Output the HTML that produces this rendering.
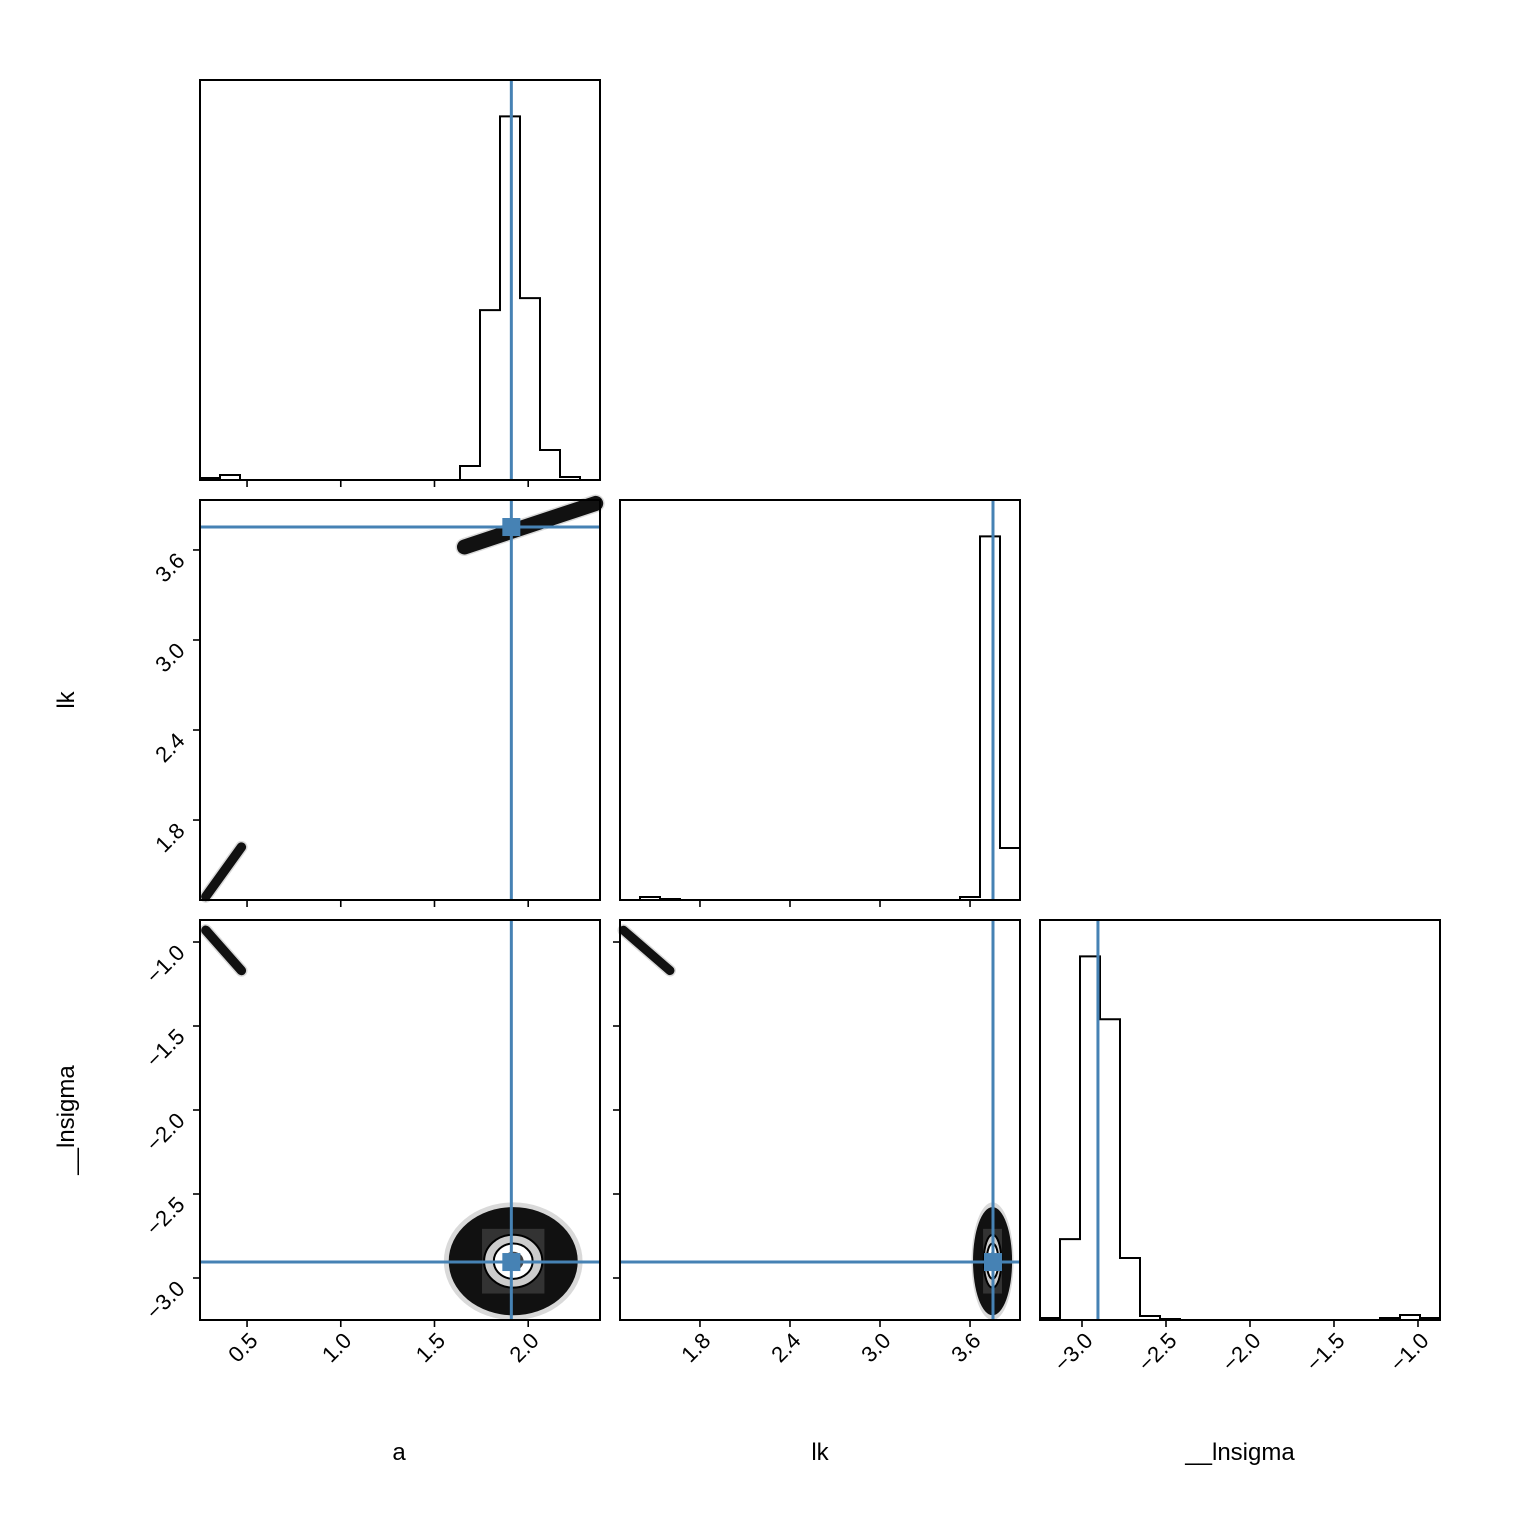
<!DOCTYPE html>
<html><head><meta charset="utf-8"><style>
html,body{margin:0;padding:0;background:#fff}
svg{display:block;font-family:"Liberation Sans",sans-serif}
</style></head><body>
<svg id="c" width="1520" height="1520" viewBox="0 0 1520 1520"></svg>
<script>
// ---- data ----
const paramNames = ["a", "lk", "__lnsigma"];
const ranges = [[0.249, 2.383], [1.267, 3.933], [-3.25, -0.869]];
const truths = [1.91, 3.753, -2.905];
const ticksA = [0.5, 1.0, 1.5, 2.0];
const ticksLk = [1.8, 2.4, 3.0, 3.6];
const ticksLs = [-3.0, -2.5, -2.0, -1.5, -1.0];
const tickLabelsA = ["0.5", "1.0", "1.5", "2.0"];
const tickLabelsLk = ["1.8", "2.4", "3.0", "3.6"];
const tickLabelsLs = ["\u22123.0", "\u22122.5", "\u22122.0", "\u22121.5", "\u22121.0"];
const histA = [2, 5, 0,0,0,0,0,0,0,0,0,0,0, 14, 170, 364, 182, 30, 3, 0];
const histLk = [0, 3, 1, 0,0,0,0,0,0,0,0,0,0,0,0,0,0, 3, 364, 52];
const histLs = [2, 81, 364, 301, 62, 4, 1, 0,0,0,0,0,0,0,0,0,0, 2, 5, 2];
// bands: [x0,y0,x1,y1,width] in data units (x-axis units)
const bandsALk = [[1.66, 3.62, 2.36, 3.91, 0.08], [0.28, 1.29, 0.47, 1.62, 0.05]];
const bandsALs = [[0.28, -0.93, 0.47, -1.17, 0.05]];
const bandsLkLs = [[1.29, -0.93, 1.6, -1.17, 0.06]];
// blobs: [cx, cy, halfX, halfY] in data units
const blobALs = [1.92, -2.9, 0.37, 0.35];
const blobLkLs = [3.75, -2.9, 0.14, 0.35];

const NS = "http://www.w3.org/2000/svg";
const svg = document.getElementById("c");
function el(tag, attrs, parent) {
  const e = document.createElementNS(NS, tag);
  for (const k in attrs) e.setAttribute(k, attrs[k]);
  (parent || svg).appendChild(e);
  return e;
}
const colX = [200, 620, 1040], rowY = [80, 500, 920], S = 400;
function sx(col, p, v) { const r = ranges[p]; return colX[col] + (v - r[0]) / (r[1] - r[0]) * S; }
function sy(row, p, v) { const r = ranges[p]; return rowY[row] + S - (v - r[0]) / (r[1] - r[0]) * S; }
const tickSets = [ticksA, ticksLk, ticksLs];
const tickLbls = [tickLabelsA, tickLabelsLk, tickLabelsLs];
const BLUE = "#4682b4";

function hist(col, p, vals, name) {
  const g = el("g", {});
  
  
  const mx = Math.max(...vals) * 1.1;
  const w = S / vals.length;
  let d = "";
  const base = rowY[col] + S;
  vals.forEach((v, i) => {
    const x0 = colX[col] + i * w, y = base - v / mx * S;
    d += (i === 0 ? "M" + x0 + "," + y : "L" + x0 + "," + y) + "L" + (x0 + w) + "," + y;
  });
  el("path", {d: d, fill: "none", stroke: "#000", "stroke-width": 2}, g);
  const tx = sx(col, p, truths[p]);
  el("line", {x1: tx, x2: tx, y1: rowY[col], y2: base, stroke: BLUE, "stroke-width": 3}, g);
}
function band(g, col, row, px, py, b) {
  const x0 = sx(col, px, b[0]), y0 = sy(row, py, b[1]), x1 = sx(col, px, b[2]), y1 = sy(row, py, b[3]);
  const hw = b[4] / (ranges[px][1] - ranges[px][0]) * S;
  el("line", {x1: x0, y1: y0, x2: x1, y2: y1, stroke: "#888", "stroke-width": hw + 3, "stroke-linecap": "round", opacity: 0.3}, g);
  el("line", {x1: x0, y1: y0, x2: x1, y2: y1, stroke: "#111", "stroke-width": hw, "stroke-linecap": "round"}, g);
}
function blob(g, col, row, px, py, b) {
  const cx = sx(col, px, b[0]), cy = sy(row, py, b[1]);
  const rx = b[2] / (ranges[px][1] - ranges[px][0]) * S, ry = b[3] / (ranges[py][1] - ranges[py][0]) * S;
  el("ellipse", {cx: cx, cy: cy, rx: rx, ry: ry, fill: "#000", opacity: 0.15}, g);
  el("ellipse", {cx: cx, cy: cy, rx: rx * 0.93, ry: ry * 0.92, fill: "#111"}, g);
  el("rect", {x: cx - rx * 0.45, y: cy - ry * 0.55, width: rx * 0.9, height: ry * 1.1, fill: "#333"}, g);
  el("ellipse", {cx: cx, cy: cy, rx: rx * 0.42, ry: ry * 0.45, fill: "#ccc", stroke: "#000", "stroke-width": 2}, g);
  el("ellipse", {cx: cx, cy: cy, rx: rx * 0.28, ry: ry * 0.3, fill: "#fff", stroke: "#000", "stroke-width": 2}, g);
  el("ellipse", {cx: cx, cy: cy, rx: rx * 0.15, ry: ry * 0.16, fill: "#444"}, g);
}
function scatterPanel(col, row, px, py, bands, bl, name) {
  const g = el("g", {});
  
  
  bands.forEach(b => band(g, col, row, px, py, b));
  if (bl) blob(g, col, row, px, py, bl);
  const tx = sx(col, px, truths[px]), ty = sy(row, py, truths[py]);
  el("line", {x1: tx, x2: tx, y1: rowY[row], y2: rowY[row] + S, stroke: BLUE, "stroke-width": 3}, g);
  el("line", {x1: colX[col], x2: colX[col] + S, y1: ty, y2: ty, stroke: BLUE, "stroke-width": 3}, g);
  el("rect", {x: tx - 9, y: ty - 9, width: 18, height: 18, fill: BLUE}, g);
}
function frame(col, row, xp, yp, xLabels, yLabels) {
  const g = el("g", {});
  
  
  el("rect", {x: colX[col], y: rowY[row], width: S, height: S, fill: "none", stroke: "#000", "stroke-width": 2}, g);
  const by = rowY[row] + S;
  if (xp !== null) tickSets[xp].forEach((t, i) => {
    const x = sx(col, xp, t);
    if (x < colX[col] || x > colX[col] + S) return;
    el("line", {x1: x, x2: x, y1: by, y2: by + 7, stroke: "#000", "stroke-width": 1.6}, g);
    if (xLabels) {
      const tt = el("text", {x: 0, y: 0, "font-size": 22, "text-anchor": "end", transform: "translate(" + (x + 12) + "," + (by + 22) + ") rotate(-45)"}, g);
      tt.textContent = tickLbls[xp][i];
      
      
    }
  });
  if (yp !== null) tickSets[yp].forEach((t, i) => {
    const y = sy(row, yp, t);
    if (y < rowY[row] || y > rowY[row] + S) return;
    el("line", {x1: colX[col] - 7, x2: colX[col], y1: y, y2: y, stroke: "#000", "stroke-width": 1.6}, g);
    if (yLabels) {
      const tt = el("text", {x: 0, y: 0, "font-size": 22, "text-anchor": "end", transform: "translate(" + (colX[col] - 14) + "," + (y + 12) + ") rotate(-45)"}, g);
      tt.textContent = tickLbls[yp][i];
      
      
    }
  });
}
hist(0, 0, histA, "hist-a");
hist(1, 1, histLk, "hist-lk");
hist(2, 2, histLs, "hist-lnsigma");
scatterPanel(0, 1, 0, 1, bandsALk, null, "scatter-a-lk");
scatterPanel(0, 2, 0, 2, bandsALs, blobALs, "scatter-a-lnsigma");
scatterPanel(1, 2, 1, 2, bandsLkLs, blobLkLs, "scatter-lk-lnsigma");
frame(0, 0, 0, null, false, false);
frame(1, 1, 1, null, false, false);
frame(2, 2, 2, null, true, false);
frame(0, 1, 0, 1, false, true);
frame(0, 2, 0, 2, true, true);
frame(1, 2, 1, 2, true, false);
function label(txt, x, y, rot, name) {
  const t = el("text", {x: 0, y: 0, "font-size": 24, "text-anchor": "middle", transform: "translate(" + x + "," + y + ")" + (rot ? " rotate(-90)" : "")});
  t.textContent = txt;
  
  
}
label("a", 399, 1460, false, "x-axis-title-a");
label("lk", 820, 1460, false, "x-axis-title-lk");
label("__lnsigma", 1240, 1460, false, "x-axis-title-lnsigma");
label("lk", 74, 700, true, "y-axis-title-lk");
label("__lnsigma", 74, 1120, true, "y-axis-title-lnsigma");
</script>
</body></html>
